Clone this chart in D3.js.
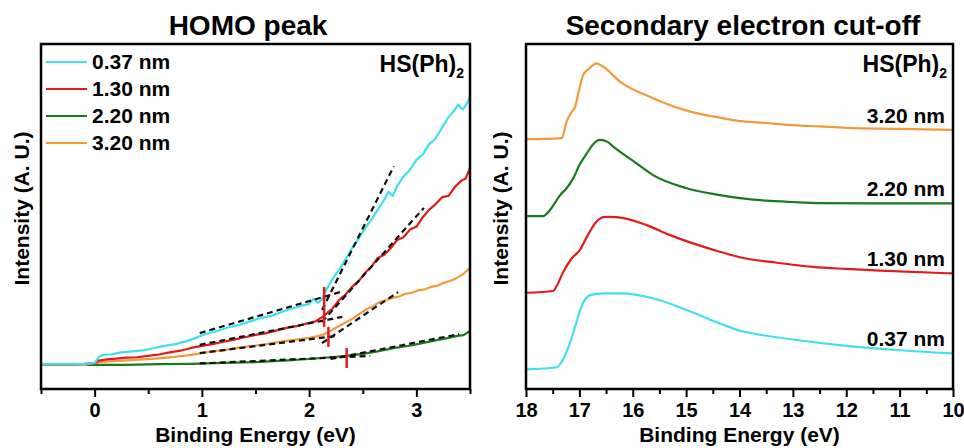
<!DOCTYPE html>
<html><head><meta charset="utf-8">
<script src="https://cdn.jsdelivr.net/npm/d3@7"></script>
<style>
body{margin:0;background:#fff}
svg{display:block;font-family:"Liberation Sans",Arial,sans-serif;font-weight:bold}
</style>
</head><body><svg id="c" width="964" height="448"></svg>
<script>
// ---------- data ----------
const seriesNames = ["0.37 nm", "1.30 nm", "2.20 nm", "3.20 nm"];
const seriesColors = ["#3fe0ee", "#e01b1b", "#1b7a1b", "#f2993e"];
const panelTitles = ["HOMO peak", "Secondary electron cut-off"];
const sampleLabel = "HS(Ph)";
const sampleSub = "2";
const xAxisTitle = "Binding Energy (eV)";
const yAxisTitle = "Intensity (A. U.)";

// HOMO peak (left panel)
const homoDomain = [-0.5, 3.5];
const homoMajorTicks = [0, 1, 2, 3];
const homoMinorTicks = [-0.5, 0.5, 1.5, 2.5, 3.5];
const homoE_037 = [-0.5,-0.3,-0.1,0.0,0.04,0.08,0.15,0.25,0.35,0.45,0.55,0.65,0.75,0.85,0.95,1.05,1.15,1.25,1.35,1.45,1.55,1.65,1.75,1.85,1.95,2.0,2.04,2.08,2.12,2.16,2.22,2.28,2.34,2.4,2.46,2.52,2.58,2.64,2.7,2.74,2.78,2.82,2.88,2.94,3.0,3.06,3.12,3.18,3.24,3.3,3.35,3.39,3.43,3.47,3.5];
const homoI_037 = [7.2,7.3,7.2,7.6,9.3,9.9,10.0,10.6,10.9,11.2,11.8,12.5,13.0,13.8,14.9,16.1,16.9,17.9,18.6,19.6,20.6,21.2,22.4,23.4,24.3,24.6,26.2,25.0,26.0,28.8,32.0,34.6,37.6,40.8,43.5,46.5,49.0,52.0,54.8,57.2,55.9,58.8,61.6,63.5,66.4,68.0,71.0,72.6,75.8,78.8,80.6,82.4,81.0,82.6,84.9];
const homoE_130 = [-0.5,-0.3,-0.1,0.0,0.04,0.1,0.2,0.3,0.4,0.5,0.6,0.7,0.8,0.9,1.0,1.1,1.2,1.3,1.4,1.5,1.6,1.7,1.8,1.9,2.0,2.06,2.12,2.16,2.22,2.28,2.34,2.4,2.46,2.52,2.58,2.64,2.7,2.76,2.82,2.88,2.94,3.0,3.06,3.12,3.18,3.24,3.3,3.36,3.42,3.46,3.5];
const homoI_130 = [7.2,7.1,7.3,7.5,8.2,8.5,8.8,9.1,9.2,9.6,10.0,10.6,11.1,11.9,12.5,13.0,13.7,14.3,15.0,15.7,16.2,17.0,17.8,18.3,19.2,19.6,20.8,21.8,23.4,25.8,27.4,29.6,31.2,33.6,35.4,38.0,38.9,40.8,43.2,44.0,46.2,47.0,49.8,52.0,53.6,55.6,56.0,58.6,60.4,61.0,64.1];
const homoE_220 = [-0.5,0.0,0.3,0.6,0.9,1.2,1.5,1.8,2.0,2.2,2.35,2.5,2.65,2.8,2.95,3.1,3.2,3.3,3.38,3.44,3.5];
const homoI_220 = [7.0,7.0,7.0,7.2,7.3,7.6,7.8,8.3,8.7,9.2,9.6,10.2,11.0,11.9,12.6,13.6,14.2,14.8,15.4,15.6,16.8];
const homoE_320 = [-0.5,-0.3,-0.1,0.0,0.05,0.15,0.3,0.45,0.6,0.75,0.9,1.0,1.1,1.2,1.3,1.4,1.5,1.6,1.7,1.8,1.9,2.0,2.06,2.12,2.18,2.24,2.3,2.36,2.42,2.48,2.54,2.6,2.66,2.72,2.78,2.84,2.9,2.96,3.02,3.08,3.14,3.2,3.26,3.32,3.38,3.44,3.5];
const homoI_320 = [7.0,7.1,7.0,7.5,7.8,8.0,8.3,8.6,8.9,9.3,9.9,10.4,10.9,11.2,11.8,12.2,12.6,13.0,13.5,14.0,14.4,14.8,15.2,15.6,16.5,17.6,18.6,19.6,20.7,22.0,23.2,24.0,25.3,25.8,26.4,26.8,27.6,27.9,28.6,28.9,29.6,30.0,30.8,31.4,32.2,33.4,35.1];

// linear fits (series order: 0.37, 1.30, 2.20, 3.20)
const baseFitE0 = [0.98, 0.98, 0.98, 0.98];
const baseFitI0 = [16.2, 12.8, 7.4, 10.4];
const baseFitE1 = [2.29, 2.31, 2.57, 2.26];
const baseFitI1 = [28.1, 20.9, 9.6, 15.4];
const slopeFitE0 = [2.12, 2.12, 2.2, 2.12];
const slopeFitI0 = [22.9, 19.4, 8.7, 13.3];
const slopeFitE1 = [2.79, 3.07, 3.4, 2.83];
const slopeFitI1 = [64.6, 52.5, 15.9, 28.1];
const onsetE = [2.14, 2.14, 2.35, 2.18];
const onsetI = [26.7, 20.9, 9.0, 15.1];

// Secondary electron cut-off (right panel)
const secoDomain = [18, 10];
const secoMajorTicks = [18, 17, 16, 15, 14, 13, 12, 11, 10];
const secoMinorTicks = [17.5, 16.5, 15.5, 14.5, 13.5, 12.5, 11.5, 10.5];
const secoE_037 = [18,17.43,17.33,17.18,17.08,16.96,16.8,16.55,16.24,15.62,14.99,14.37,13.99,13.74,12.93,11.99,11.06,10];
const secoI_037 = [5.7,6.3,7.9,13.2,18.1,23.9,27.2,27.7,27.7,26.3,22.9,19.0,16.9,16.1,14.2,12.5,11.3,10.3];
const secoE_130 = [18,17.49,17.43,17.3,17.14,16.99,16.86,16.68,16.52,16.3,15.74,15.3,14.87,14.37,13.99,13.3,12.62,12.0,11.37,10];
const secoI_130 = [27.9,28.4,29.7,34.0,37.9,40.3,44.1,48.5,49.9,49.8,47.5,44.6,42.2,39.8,38.2,36.6,35.4,34.8,34.3,33.5];
const secoE_220 = [18,17.68,17.55,17.36,17.24,17.11,17.0,16.86,16.75,16.61,16.48,16.36,15.93,15.62,14.99,14.37,13.99,13.5,13.0,12.5,11.5,10];
const secoI_220 = [50.1,50.1,51.9,56.2,58.2,61.2,64.9,68.3,70.8,72.2,71.7,70.2,65.4,62.0,58.2,56.2,55.3,54.6,54.2,53.9,53.8,53.8];
const secoE_320 = [18,17.64,17.33,17.24,17.14,17.08,17.02,16.93,16.83,16.68,16.55,16.24,15.62,14.99,14.5,14.05,13.5,13.0,12.5,12.0,11.0,10];
const secoI_320 = [72.4,72.5,72.7,77.5,80.4,81.8,85.7,91.0,92.7,94.4,93.4,89.1,84.3,80.7,79.0,77.8,77.1,76.5,76.1,75.7,75.4,75.1];

const intensityDomain = [0, 100];

// ---------- drawing ----------
const svg = d3.select("#c");
const plotTop = 44, plotBottom = 389;
const zip = (E, I) => E.map((e, i) => [e, I[i]]);

const homoSeries = [zip(homoE_037, homoI_037), zip(homoE_130, homoI_130), zip(homoE_220, homoI_220), zip(homoE_320, homoI_320)];
const secoSeries = [zip(secoE_037, secoI_037), zip(secoE_130, secoI_130), zip(secoE_220, secoI_220), zip(secoE_320, secoI_320)];

function panel(left, right, domain, majors, minors, title, titleX, yTitleX) {
  const x = d3.scaleLinear().domain(domain).range([left, right]);
  const y = d3.scaleLinear().domain(intensityDomain).range([plotBottom, plotTop]);
  const g = svg.append("g");
  g.append("text").attr("x", titleX).attr("y", 35).attr("text-anchor", "middle")
    .attr("font-size", 28).text(title);
  const ax = g.append("g").attr("transform", `translate(0,${plotBottom})`)
    .call(d3.axisBottom(x).tickValues(majors).tickSize(8).tickPadding(6).tickFormat(d3.format("d")));
  ax.select(".domain").remove();
  ax.selectAll("line").attr("stroke", "#000").attr("stroke-width", 2);
  ax.selectAll("text").attr("font-size", 20).attr("font-family", "Liberation Sans, Arial, sans-serif").attr("font-weight", "bold").attr("fill", "#000");
  const axm = g.append("g").attr("transform", `translate(0,${plotBottom})`)
    .call(d3.axisBottom(x).tickValues(minors).tickSize(5).tickFormat(""));
  axm.select(".domain").remove();
  axm.selectAll("line").attr("stroke", "#000").attr("stroke-width", 2);
  g.append("text").attr("x", (left + right) / 2).attr("y", 442).attr("text-anchor", "middle")
    .attr("font-size", 21).text(xAxisTitle);
  g.append("text").attr("transform", `translate(${yTitleX},${(plotTop + plotBottom) / 2 - 8}) rotate(-90)`)
    .attr("text-anchor", "middle").attr("font-size", 21).text(yAxisTitle);
  const t = g.append("text").attr("x", right - 6).attr("y", 72).attr("text-anchor", "end").attr("font-size", 23);
  t.append("tspan").text(sampleLabel);
  t.append("tspan").attr("font-size", 14).attr("dy", 6).text(sampleSub);
  return {g, x, y};
}

// Left panel
const L = panel(41, 470, homoDomain, homoMajorTicks, homoMinorTicks, panelTitles[0], 248, 29);
const lineL = d3.line().x(d => L.x(d[0])).y(d => L.y(d[1]));
const drawOrder = [2, 3, 1, 0];
drawOrder.forEach(i => {
  L.g.append("path").datum(homoSeries[i]).attr("d", lineL)
    .attr("fill", "none").attr("stroke", seriesColors[i]).attr("stroke-width", 2.2).attr("stroke-linejoin", "round");
});
seriesNames.forEach((n, i) => {
  L.g.append("path").datum([[baseFitE0[i], baseFitI0[i]], [baseFitE1[i], baseFitI1[i]]]).attr("d", lineL)
    .attr("fill", "none").attr("stroke", "#111").attr("stroke-width", 2.2).attr("stroke-dasharray", "6,4");
  L.g.append("path").datum([[slopeFitE0[i], slopeFitI0[i]], [slopeFitE1[i], slopeFitI1[i]]]).attr("d", lineL)
    .attr("fill", "none").attr("stroke", "#111").attr("stroke-width", 2.2).attr("stroke-dasharray", "6,4");
});
seriesNames.forEach((n, i) => {
  const cx = L.x(onsetE[i]), cy = L.y(onsetI[i]);
  L.g.append("line").attr("x1", cx).attr("x2", cx).attr("y1", cy - 10).attr("y2", cy + 10)
    .attr("stroke", "#e01b1b").attr("stroke-width", 2.5);
});
seriesNames.forEach((n, i) => {
  const ly = 62 + i * 27;
  L.g.append("line").attr("x1", 46).attr("x2", 87).attr("y1", ly).attr("y2", ly)
    .attr("stroke", seriesColors[i]).attr("stroke-width", 2.2);
  L.g.append("text").attr("x", 92).attr("y", ly + 7).attr("font-size", 21).text(n);
});
L.g.append("rect").attr("x", 41).attr("y", plotTop).attr("width", 470 - 41).attr("height", plotBottom - plotTop)
  .attr("fill", "none").attr("stroke", "#000").attr("stroke-width", 2.5);

// Right panel
const R = panel(526, 953, secoDomain, secoMajorTicks, secoMinorTicks, panelTitles[1], 743, 508);
const lineR = d3.line().x(d => R.x(d[0])).y(d => R.y(d[1])).curve(d3.curveMonotoneX);
secoSeries.forEach((s, i) => {
  R.g.append("path").datum(s).attr("d", lineR)
    .attr("fill", "none").attr("stroke", seriesColors[i]).attr("stroke-width", 2.2).attr("stroke-linejoin", "round");
  const last = s[s.length - 1];
  R.g.append("text").attr("x", 945).attr("y", R.y(last[1]) - 7).attr("text-anchor", "end")
    .attr("font-size", 21).text(seriesNames[i]);
});
R.g.append("rect").attr("x", 526).attr("y", plotTop).attr("width", 953 - 526).attr("height", plotBottom - plotTop)
  .attr("fill", "none").attr("stroke", "#000").attr("stroke-width", 2.5);
</script>
</body></html>
